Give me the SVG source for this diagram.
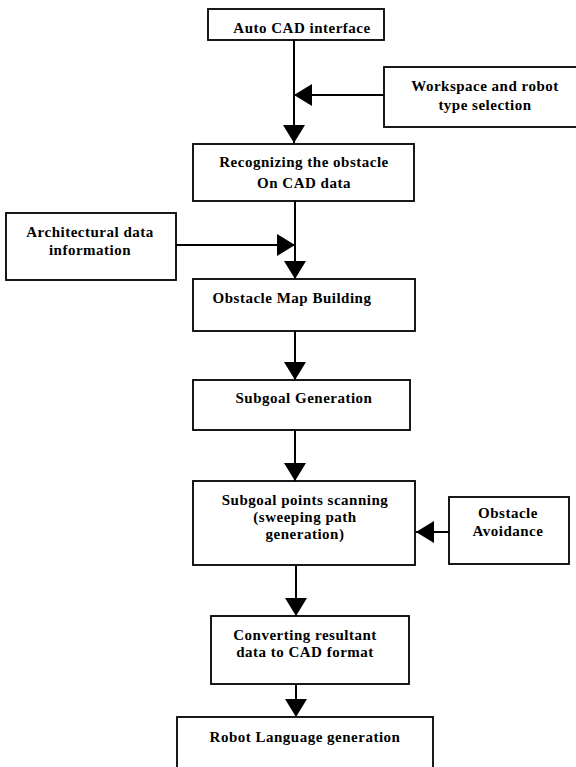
<svg xmlns="http://www.w3.org/2000/svg" width="576" height="767" viewBox="0 0 576 767">
<style>
.box{fill:#fff;stroke:#000;stroke-width:1.8}
.t{font-family:"Liberation Serif","Times New Roman",serif;font-weight:bold;font-size:15px;letter-spacing:0.5px;fill:#000;text-anchor:middle}
.c{stroke:#000;stroke-width:2;fill:none}
</style>
<defs>
<marker id="ah" markerUnits="userSpaceOnUse" markerWidth="18" markerHeight="22" refX="18" refY="11" orient="auto">
<path d="M0,0 L18,11 L0,22 z" fill="#000"/>
</marker>
</defs>
<rect width="576" height="767" fill="#fff"/>
<g id="connectors">
<line class="c" x1="294" y1="40" x2="294" y2="143" marker-end="url(#ah)"/>
<line class="c" x1="384" y1="95" x2="294" y2="95" marker-end="url(#ah)"/>
<line class="c" x1="295" y1="201" x2="295" y2="279" marker-end="url(#ah)"/>
<line class="c" x1="176" y1="245" x2="295" y2="245" marker-end="url(#ah)"/>
<line class="c" x1="295" y1="331" x2="295" y2="380" marker-end="url(#ah)"/>
<line class="c" x1="295" y1="430" x2="295" y2="481" marker-end="url(#ah)"/>
<line class="c" x1="296" y1="565" x2="296" y2="616" marker-end="url(#ah)"/>
<line class="c" x1="449" y1="532" x2="416" y2="532" marker-end="url(#ah)"/>
<line class="c" x1="296" y1="684" x2="296" y2="717" marker-end="url(#ah)"/>
</g>
<g id="autocad">
<rect class="box" x="208" y="9" width="176" height="31"/>
<text class="t" x="302" y="33">Auto CAD interface</text>
</g>
<g id="workspace">
<rect class="box" x="384" y="67" width="200" height="60"/>
<text class="t" x="485" y="91">Workspace and robot</text>
<text class="t" x="485" y="110">type selection</text>
</g>
<g id="recognizing">
<rect class="box" x="193" y="144" width="221" height="57"/>
<text class="t" x="304" y="167">Recognizing the obstacle</text>
<text class="t" x="304" y="188">On CAD data</text>
</g>
<g id="architectural">
<rect class="box" x="6" y="213" width="170" height="67"/>
<text class="t" x="90" y="237">Architectural data</text>
<text class="t" x="90" y="255">information</text>
</g>
<g id="obstaclemap">
<rect class="box" x="193" y="279" width="222" height="52"/>
<text class="t" x="292" y="303">Obstacle Map Building</text>
</g>
<g id="subgoalgen">
<rect class="box" x="193" y="380" width="217" height="50"/>
<text class="t" x="304" y="403">Subgoal Generation</text>
</g>
<g id="subgoalpoints">
<rect class="box" x="193" y="481" width="222" height="84"/>
<text class="t" x="305" y="505">Subgoal points scanning</text>
<text class="t" x="305" y="522">(sweeping path</text>
<text class="t" x="305" y="539">generation)</text>
</g>
<g id="avoidance">
<rect class="box" x="449" y="497" width="120" height="67"/>
<text class="t" x="508" y="518">Obstacle</text>
<text class="t" x="508" y="536">Avoidance</text>
</g>
<g id="converting">
<rect class="box" x="211" y="616" width="198" height="68"/>
<text class="t" x="305" y="640">Converting resultant</text>
<text class="t" x="305" y="657">data to CAD format</text>
</g>
<g id="robotlang">
<rect class="box" x="177" y="717" width="256" height="60"/>
<text class="t" x="305" y="742">Robot Language generation</text>
</g>
</svg>
